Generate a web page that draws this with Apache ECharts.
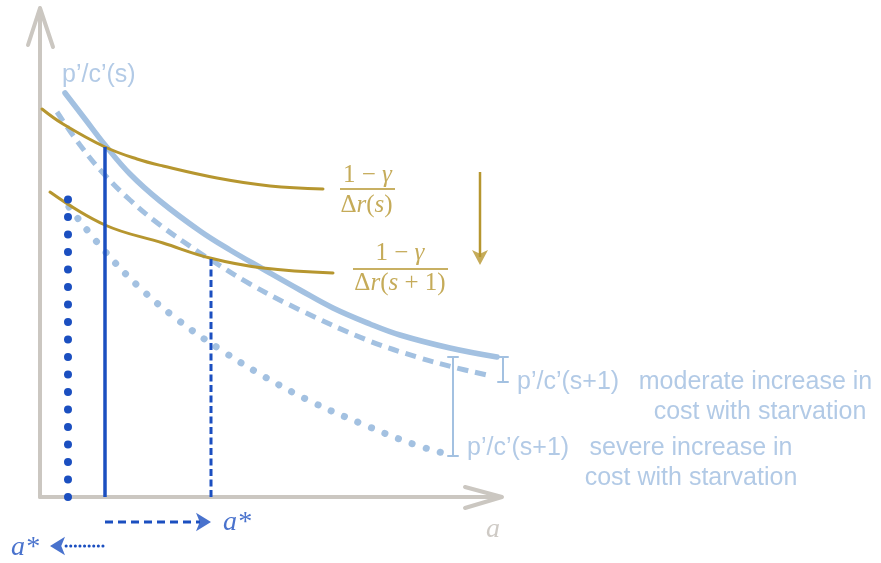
<!DOCTYPE html>
<html>
<head>
<meta charset="utf-8">
<script src="https://cdn.jsdelivr.net/npm/echarts@6/dist/echarts.min.js"></script>
<style>html,body{margin:0;padding:0;background:#fff}#c{width:881px;height:563px}</style>
</head>
<body>
<div id="c"></div>
<script>
// ---- data (abstract units: a on x, value on y) ----
const solidCurve = [[2.5,40.4],[4.5,37.8],[6.5,35.2],[9.0,32.3],[12.0,29.6],[16.0,26.6],[19.0,24.7],[22.3,22.8],[26.0,20.7],[29.3,18.9],[33.0,17.3],[36.0,16.2],[41.0,14.9],[45.7,14.0]];
const dashedCurve = [[1.7,38.5],[4.0,35.2],[6.3,32.4],[9.0,29.7],[12.0,27.2],[16.0,24.4],[17.1,23.7],[21.0,21.3],[26.0,18.7],[32.7,15.7],[38.0,13.9],[41.3,13.0],[44.7,12.2]];
const dottedCurve = [[2.9,29.0],[6.2,24.9],[9.8,21.1],[13.8,17.7],[18.1,14.7],[22.5,12.0],[27.2,9.5],[32.0,7.4],[37.0,5.4],[40.3,4.4]];
const goldUpper = [[0.2,38.8],[2.3,37.3],[6.5,35.0],[9.7,33.8],[12.3,33.1],[17.7,31.9],[23.0,31.1],[28.3,30.8]];
const goldLower = [[1.0,30.5],[6.5,27.2],[12.3,25.4],[17.0,23.9],[22.3,22.9],[29.3,22.4]];
// optimal a* lines: [x, top]
const aStarSolid = [6.5, 35.0];
const aStarDashed = [17.1, 23.9];
const aStarDotted = [2.8, 29.8];
// axes
const yAxisLine = [[0,0],[0,48.8]];
const yAxisHead = [[-1.2,45.2],[0,48.9],[1.3,45.0]];
const xAxisLine = [[0,0],[46.0,0]];
const xAxisHead = [[42.5,1.0],[46.2,0],[42.5,-1.1]];
// brackets [x, top, bottom]
const bracketModerate = [46.3, 14.0, 11.5];
const bracketSevere = [41.3, 14.0, 4.1];
// arrows [x1,y1,x2,y2] (x2,y2 = tip)
const goldArrow = [44.0, 32.5, 44.0, 23.2];
const dashedArrow = [6.5, -2.5, 17.1, -2.5];
const dottedArrow = [6.3, -4.9, 1.0, -4.9];
// fraction bars
const fracUpperBar = [[30.0,30.8],[35.5,30.8]];
const fracLowerBar = [[31.3,22.8],[40.8,22.8]];
// labels
const labels = [
  {text:'p’/c’(s)', pos:[2.2,42.2], kind:'blue', align:'left'},
  {text:'p’/c’(s+1)', pos:[47.7,11.5], kind:'blue', align:'left'},
  {text:'moderate increase in', pos:[71.55,11.5], kind:'blue', align:'center'},
  {text:'cost with starvation', pos:[72.0,8.5], kind:'blue', align:'center'},
  {text:'p’/c’(s+1)', pos:[42.7,4.9], kind:'blue', align:'left'},
  {text:'severe increase in', pos:[65.1,4.9], kind:'blue', align:'center'},
  {text:'cost with starvation', pos:[65.1,1.9], kind:'blue', align:'center'},
  {text:'{n|1 − }{i|γ}', pos:[32.75,32.2], kind:'gold', align:'center'},
  {text:'{n|Δ}{i|r}{n|(}{i|s}{n|)}', pos:[32.65,29.2], kind:'gold', align:'center'},
  {text:'{n|1 − }{i|γ}', pos:[36.0,24.4], kind:'gold', align:'center'},
  {text:'{n|Δ}{i|r}{n|(}{i|s}{n| + 1)}', pos:[36.0,21.4], kind:'gold', align:'center'},
  {text:'a*', pos:[19.7,-2.6], kind:'astar', align:'center'},
  {text:'a*', pos:[-1.5,-5.1], kind:'astar', align:'center'},
  {text:'a', pos:[45.3,-3.3], kind:'axis', align:'center'}
];

// ---- styles ----
const LB = '#a3c1e1', GOLD = '#b6962f', DB = '#1b4fc0', GRAY = '#cbc7c1';

function line(data, color, width, type, extra) {
  return Object.assign({
    type:'line', data:data, showSymbol:false, symbol:'none', silent:true, animation:false, clip:false,
    lineStyle:{color:color, width:width, type:type||'solid', cap:'round', join:'round'}
  }, extra||{});
}
function head(x, y, rot, size, color) {
  return {type:'scatter', data:[[x,y]], symbol:'arrow', symbolSize:size, symbolRotate:rot,
    itemStyle:{color:color}, silent:true, animation:false, clip:false};
}

const series = [];
// axes
series.push(line(yAxisLine, GRAY, 4, 'solid'));
series.push(line(yAxisHead, GRAY, 4, 'solid'));
series.push(line(xAxisLine, GRAY, 4, 'solid'));
series.push(line(xAxisHead, GRAY, 4, 'solid'));
// curves
series.push(line(dottedCurve, LB, 7, [0.1, 14.5], {smooth:0.4}));
series.push(line(dashedCurve, LB, 5, [11, 7], {smooth:0.4, lineStyle:{color:LB,width:5,type:[11,7],cap:'butt'}}));
series.push(line(solidCurve, LB, 5.5, 'solid', {smooth:0.4}));
series.push(line(goldUpper, GOLD, 3, 'solid', {smooth:0.4}));
series.push(line(goldLower, GOLD, 3, 'solid', {smooth:0.4}));
// vertical a* lines
series.push(line([[aStarDotted[0],0],[aStarDotted[0],aStarDotted[1]]], DB, 8, [0.1, 17.4]));
series.push(line([[aStarSolid[0],0],[aStarSolid[0],aStarSolid[1]]], DB, 3.5, 'solid', {lineStyle:{color:DB,width:3.5,cap:'butt'}}));
series.push(line([[aStarDashed[0],0],[aStarDashed[0],aStarDashed[1]]], DB, 3, [7,3.5], {lineStyle:{color:DB,width:3,type:[7,3.5],cap:'butt'}}));
// brackets
[bracketModerate, bracketSevere].forEach(b => {
  series.push(line([[b[0],b[1]],[b[0],b[2]]], LB, 2, 'solid'));
  series.push(line([[b[0]-0.5,b[1]],[b[0]+0.5,b[1]]], LB, 2, 'solid'));
  series.push(line([[b[0]-0.5,b[2]],[b[0]+0.5,b[2]]], LB, 2, 'solid'));
});
// fraction bars
series.push(line(fracUpperBar, GOLD, 1.5, 'solid', {lineStyle:{color:GOLD,width:1.5,cap:'butt'}}));
series.push(line(fracLowerBar, GOLD, 1.5, 'solid', {lineStyle:{color:GOLD,width:1.5,cap:'butt'}}));
// arrows
series.push(line([[goldArrow[0],goldArrow[1]],[goldArrow[2],goldArrow[3]+0.8]], GOLD, 2.5, 'solid', {lineStyle:{color:GOLD,width:2.5,cap:'butt'}}));
series.push(head(goldArrow[2], goldArrow[3], 180, [12,15], GOLD));
series.push(line([[dashedArrow[0],dashedArrow[1]],[dashedArrow[2]-1.1,dashedArrow[3]]], DB, 3, [8,5], {lineStyle:{color:DB,width:3,type:[8,5],cap:'butt'}}));
series.push(head(dashedArrow[2], dashedArrow[3], -90, [14,15], DB));
series.push(line([[dottedArrow[0],dottedArrow[1]],[dottedArrow[2]+1.2,dottedArrow[3]]], DB, 3, [0.1, 4.5], {lineStyle:{color:DB,width:3,type:[0.1,4.5],cap:'round'}}));
series.push(head(dottedArrow[2], dottedArrow[3], 90, [14,15], DB));

// labels
const styleByKind = {
  blue: {color:'#9fbde0', fontFamily:'Liberation Sans', fontSize:25},
  gold: {color:GOLD, fontFamily:'Liberation Serif', fontSize:25,
         rich:{n:{color:GOLD,fontFamily:'Liberation Serif',fontSize:25},
               i:{color:GOLD,fontFamily:'Liberation Serif',fontSize:25,fontStyle:'italic'}}},
  astar: {color:DB, fontFamily:'Liberation Serif', fontSize:28, fontStyle:'italic'},
  axis: {color:'#c2bdb7', fontFamily:'Liberation Serif', fontSize:28, fontStyle:'italic'}
};
series.push({
  type:'scatter', symbolSize:0, silent:true, animation:false, clip:false,
  data: labels.map(l => ({
    value: l.pos,
    label: Object.assign({show:true, position:'inside', formatter:l.text, align:l.align, verticalAlign:'middle'}, styleByKind[l.kind])
  }))
});

const chart = echarts.init(document.getElementById('c'), null, {renderer:'canvas'});
chart.setOption({
  animation:false,
  grid:{left:0, right:0, top:0, bottom:0, containLabel:false},
  xAxis:{type:'value', min:-4.0, max:84.1, show:false},
  yAxis:{type:'value', min:-6.6, max:49.7, show:false},
  series: series
});
</script>
</body>
</html>
